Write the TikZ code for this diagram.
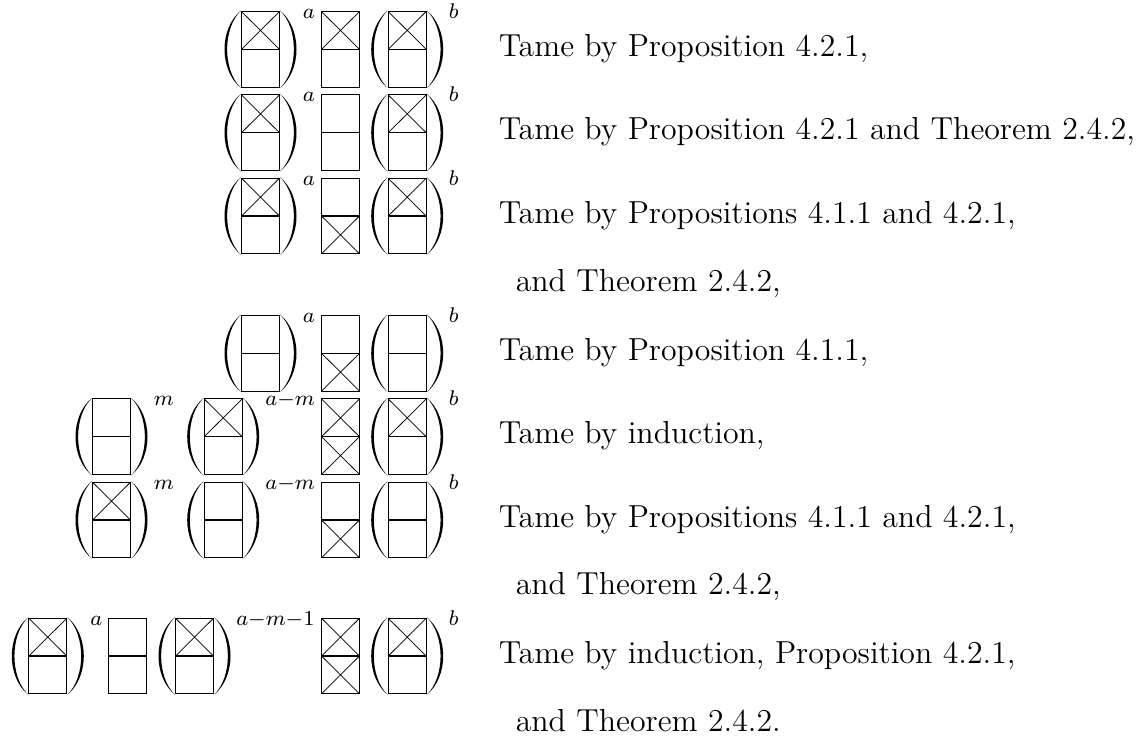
\documentclass[tikz,border=0pt]{standalone}
\usetikzlibrary{positioning}

\newcommand{\enl}[1]{\scalebox{1.99}{#1}}

\tikzset{
  cell/.style={line width=0.8pt},
  cross/.style={line width=0.55pt},
  paren/.style={fill=black,draw=none},
  lbl/.style={anchor=base west,inner sep=0pt,font=\fontsize{12}{14.5}\selectfont},
  sup/.style={anchor=base west,inner sep=0pt,font=\fontsize{12}{14.5}\selectfont},
  pics/tile/.style={code={
    \draw[cell] (-19,-37.75) rectangle (19,37.75) (-19,0) -- (19,0);}},
  pics/xtop/.style={code={
    \draw[cross] (-19,37.75) -- (19,0) (-19,0) -- (19,37.75);}},
  pics/xbot/.style={code={
    \draw[cross] (-19,0) -- (19,-37.75) (-19,-37.75) -- (19,0);}},
  pics/brackets/.style={code={
    \fill[paren] (-19.5,-38.8) .. controls (-41.5,-21) and (-41.5,21) .. (-19.5,38.8)
      .. controls (-38,21) and (-38,-21) .. (-19.5,-38.8) -- cycle;
    \fill[paren,xscale=-1] (-19.5,-38.8) .. controls (-41.5,-21) and (-41.5,21) .. (-19.5,38.8)
      .. controls (-38,21) and (-38,-21) .. (-19.5,-38.8) -- cycle;}}
}

\begin{document}
\begin{tikzpicture}[x=0.75pt,y=0.75pt,yscale=-1,xscale=1]
\useasboundingbox (0,0) rectangle (1148,740);

%Row 1
\pic at (260.5,49.3) {tile}; \pic at (260.5,49.3) {xtop}; \pic at (260.5,49.3) {brackets};
\pic at (340.5,49.3) {tile}; \pic at (340.5,49.3) {xtop};
\pic at (407.2,49.3) {tile}; \pic at (407.2,49.3) {xtop}; \pic at (407.2,49.3) {brackets};
\node[sup] (r1a) at (302.5,18.3) {\enl{$\scriptstyle a$}};
\node[sup] (r1b) at (448.5,18.3) {\enl{$\scriptstyle b$}};

%Row 2
\pic at (260.5,132.7) {tile}; \pic at (260.5,132.7) {xtop}; \pic at (260.5,132.7) {brackets};
\pic at (340.5,132.7) {tile};
\pic at (407.2,132.7) {tile}; \pic at (407.2,132.7) {xtop}; \pic at (407.2,132.7) {brackets};
\node[sup] (r2a) at (302.5,101.7) {\enl{$\scriptstyle a$}};
\node[sup] (r2b) at (448.5,101.7) {\enl{$\scriptstyle b$}};

%Row 3
\pic at (260.5,216) {tile}; \pic at (260.5,216) {xtop}; \pic at (260.5,216) {brackets};
\pic at (340.5,216) {tile}; \pic at (340.5,216) {xbot};
\pic at (407.2,216) {tile}; \pic at (407.2,216) {xtop}; \pic at (407.2,216) {brackets};
\node[sup] (r3a) at (302.5,185) {\enl{$\scriptstyle a$}};
\node[sup] (r3b) at (448.5,185) {\enl{$\scriptstyle b$}};

%Row 4
\pic at (260.5,353.3) {tile}; \pic at (260.5,353.3) {brackets};
\pic at (340.5,353.3) {tile}; \pic at (340.5,353.3) {xbot};
\pic at (407.2,353.3) {tile}; \pic at (407.2,353.3) {brackets};
\node[sup] (r4a) at (302.5,322.3) {\enl{$\scriptstyle a$}};
\node[sup] (r4b) at (448.5,322.3) {\enl{$\scriptstyle b$}};

%Row 5
\pic at (111.5,436.7) {tile}; \pic at (111.5,436.7) {brackets};
\pic at (223.2,436.7) {tile}; \pic at (223.2,436.7) {xtop}; \pic at (223.2,436.7) {brackets};
\pic at (340.5,436.7) {tile}; \pic at (340.5,436.7) {xtop}; \pic at (340.5,436.7) {xbot};
\pic at (407.2,436.7) {tile}; \pic at (407.2,436.7) {xtop}; \pic at (407.2,436.7) {brackets};
\node[sup] (r5m) at (153.5,405.7) {\enl{$\scriptstyle m$}};
\node[sup] (r5am) at (265,405.7) {\enl{$\scriptstyle a-m$}};
\node[sup] (r5b) at (448.5,405.7) {\enl{$\scriptstyle b$}};

%Row 6
\pic at (111.5,520) {tile}; \pic at (111.5,520) {xtop}; \pic at (111.5,520) {brackets};
\pic at (223.2,520) {tile}; \pic at (223.2,520) {brackets};
\pic at (340.5,520) {tile}; \pic at (340.5,520) {xbot};
\pic at (407.2,520) {tile}; \pic at (407.2,520) {brackets};
\node[sup] (r6m) at (153.5,489) {\enl{$\scriptstyle m$}};
\node[sup] (r6am) at (265,489) {\enl{$\scriptstyle a-m$}};
\node[sup] (r6b) at (448.5,489) {\enl{$\scriptstyle b$}};

%Row 7
\pic at (47.8,656) {tile}; \pic at (47.8,656) {xtop}; \pic at (47.8,656) {brackets};
\pic at (127.5,656) {tile};
\pic at (194.5,656) {tile}; \pic at (194.5,656) {xtop}; \pic at (194.5,656) {brackets};
\pic at (340.5,656) {tile}; \pic at (340.5,656) {xtop}; \pic at (340.5,656) {xbot};
\pic at (407.2,656) {tile}; \pic at (407.2,656) {xtop}; \pic at (407.2,656) {brackets};
\node[sup] (r7a) at (90,625) {\enl{$\scriptstyle a$}};
\node[sup] (r7amo) at (236,625) {\enl{$\scriptstyle a-m-1$}};
\node[sup] (r7b) at (448.5,625) {\enl{$\scriptstyle b$}};

% Text Node
\node[lbl] (t1) at (498.5,56.5) {\enl{Tame by Proposition 4.2.1,}};
% Text Node
\node[lbl] (t2) at (498.5,139.5) {\enl{Tame by Proposition 4.2.1 and Theorem 2.4.2,}};
% Text Node
\node[lbl] (t3) at (498.5,223) {\enl{Tame by Propositions 4.1.1 and 4.2.1,}};
% Text Node
\node[lbl] (t4) at (515.5,291.5) {\enl{and Theorem 2.4.2,}};
% Text Node
\node[lbl] (t5) at (498.5,360) {\enl{Tame by Proposition 4.1.1,}};
% Text Node
\node[lbl] (t6) at (498.5,443.5) {\enl{Tame by induction,}};
% Text Node
\node[lbl] (t7) at (498.5,527) {\enl{Tame by Propositions 4.1.1 and 4.2.1,}};
% Text Node
\node[lbl] (t8) at (515.5,594.5) {\enl{and Theorem 2.4.2,}};
% Text Node
\node[lbl] (t9) at (498.5,663) {\enl{Tame by induction, Proposition 4.2.1,}};
% Text Node
\node[lbl] (t10) at (515.5,731.5) {\enl{and Theorem 2.4.2.}};

\end{tikzpicture}
\end{document}
